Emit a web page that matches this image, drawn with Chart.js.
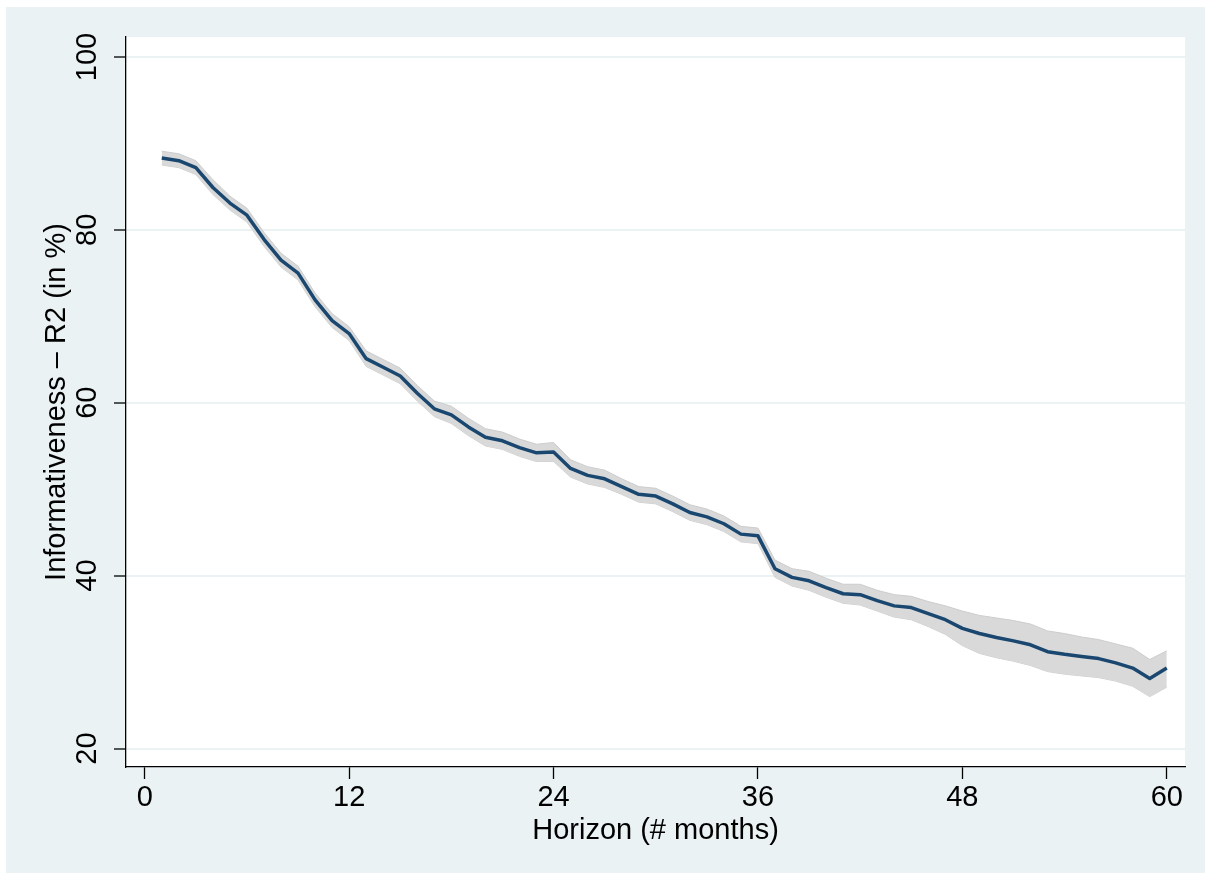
<!DOCTYPE html>
<html>
<head>
<meta charset="utf-8">
<title>Informativeness by horizon</title>
<script src="https://cdn.jsdelivr.net/npm/chart.js@4"></script>
<style>
  html, body { margin: 0; padding: 0; background: #ffffff; }
  canvas { display: block; }
</style>
</head>
<body>
<canvas id="r2Chart" width="1211" height="880" style="width:1211px;height:880px"></canvas>
<script>
// Horizon in months
const months = [1, 2, 3, 4, 5, 6, 7, 8, 9, 10, 11, 12, 13, 14, 15, 16, 17, 18, 19, 20,
    21, 22, 23, 24, 25, 26, 27, 28, 29, 30, 31, 32, 33, 34, 35, 36, 37, 38, 39, 40,
    41, 42, 43, 44, 45, 46, 47, 48, 49, 50, 51, 52, 53, 54, 55, 56, 57, 58, 59, 60];

// Point estimate of R2 (in %)
const r2 = [88.3, 88.0, 87.2, 84.9, 83.1, 81.7, 78.9, 76.5, 75.0, 71.9,
    69.5, 68.0, 65.1, 64.1, 63.1, 61.1, 59.3, 58.6, 57.2, 56.0,
    55.6, 54.8, 54.2, 54.3, 52.4, 51.6, 51.2, 50.3, 49.4, 49.2,
    48.3, 47.3, 46.8, 46.0, 44.8, 44.6, 40.8, 39.8, 39.4, 38.6,
    37.9, 37.8, 37.1, 36.5, 36.3, 35.6, 34.9, 33.9, 33.3, 32.85,
    32.45, 32.0, 31.2, 30.9, 30.65, 30.4, 29.9, 29.3, 28.1, 29.3];

// Confidence band
const upper = [89.1, 88.8, 88.0, 85.8, 83.9, 82.5, 79.7, 77.3, 75.8, 72.7,
    70.3, 68.8, 66.0, 65.0, 64.0, 62.0, 60.2, 59.6, 58.2, 57.0,
    56.6, 55.8, 55.2, 55.4, 53.4, 52.6, 52.2, 51.2, 50.3, 50.1,
    49.2, 48.2, 47.7, 46.9, 45.7, 45.5, 41.8, 40.8, 40.5, 39.7,
    39.0, 39.0, 38.3, 37.8, 37.6, 37.0, 36.5, 35.9, 35.4, 35.1,
    34.8, 34.4, 33.6, 33.3, 32.9, 32.6, 32.1, 31.6, 30.3, 31.3];

const lower = [87.5, 87.2, 86.4, 84.1, 82.3, 80.9, 78.1, 75.7, 74.2, 71.1,
    68.7, 67.2, 64.2, 63.2, 62.2, 60.2, 58.4, 57.6, 56.2, 55.0,
    54.6, 53.8, 53.2, 53.2, 51.4, 50.6, 50.2, 49.4, 48.5, 48.3,
    47.4, 46.4, 45.9, 45.1, 43.9, 43.7, 39.8, 38.8, 38.3, 37.5,
    36.8, 36.6, 35.9, 35.2, 34.9, 34.1, 33.2, 31.9, 31.0, 30.5,
    30.1, 29.6, 28.9, 28.6, 28.4, 28.2, 27.8, 27.2, 26.0, 27.1];

const xTickValues = [0, 12, 24, 36, 48, 60];
const yTickValues = [20, 40, 60, 80, 100];

const toPoints = (ys) => months.map((m, i) => ({ x: m, y: ys[i] }));

const FONT = "'Liberation Sans', Arial, sans-serif";
const axisFont = { family: FONT, size: 29 };

// Stata-like background: light bluish outer region, white plot region
const backgroundPlugin = {
    id: 'stataBackground',
    beforeDraw(chart) {
        const { ctx, chartArea } = chart;
        ctx.save();
        ctx.fillStyle = '#ffffff';
        ctx.fillRect(0, 0, chart.width, chart.height);
        ctx.fillStyle = '#eaf2f3';
        ctx.fillRect(6, 7, 1199, 866);
        ctx.fillStyle = '#ffffff';
        ctx.fillRect(chartArea.left, chartArea.top,
            chartArea.right - chartArea.left, chartArea.bottom - chartArea.top);
        ctx.restore();
    }
};

new Chart(document.getElementById('r2Chart'), {
    type: 'line',
    data: {
        datasets: [
            {
                label: 'upper',
                data: toPoints(upper),
                borderColor: '#cdcdcd',
                borderWidth: 1,
                backgroundColor: '#d9d9d9',
                fill: '+1',
                pointRadius: 0,
                order: 2
            },
            {
                label: 'lower',
                data: toPoints(lower),
                borderColor: '#cdcdcd',
                borderWidth: 1,
                fill: false,
                pointRadius: 0,
                order: 3
            },
            {
                label: 'R2',
                data: toPoints(r2),
                borderColor: '#1a476f',
                borderWidth: 3.5,
                borderJoinStyle: 'round',
                fill: false,
                pointRadius: 0,
                order: 1
            }
        ]
    },
    options: {
        responsive: false,
        animation: false,
        devicePixelRatio: 1,
        layout: {
            padding: { top: 37, right: 26, left: 0, bottom: 0 }
        },
        plugins: {
            legend: { display: false },
            tooltip: { enabled: false }
        },
        elements: {
            line: { tension: 0 }
        },
        scales: {
            x: {
                type: 'linear',
                position: 'bottom',
                min: -1.1,
                max: 61.07,
                afterBuildTicks: (axis) => {
                    axis.ticks = xTickValues.map(v => ({ value: v }));
                },
                afterFit: (scale) => { scale.height = 113; },
                grid: {
                    drawOnChartArea: false,
                    drawTicks: true,
                    tickLength: 12,
                    tickColor: '#000000',
                    tickWidth: 1.3
                },
                border: { display: true, color: '#000000', width: 1.3 },
                ticks: {
                    font: axisFont,
                    color: '#000000',
                    padding: 2,
                    maxRotation: 0,
                    autoSkip: false
                },
                title: {
                    display: true,
                    text: 'Horizon (# months)',
                    font: axisFont,
                    color: '#000000',
                    padding: { top: 0, bottom: 32 }
                }
            },
            y: {
                type: 'linear',
                position: 'left',
                min: 17.86,
                max: 102.31,
                afterBuildTicks: (axis) => {
                    axis.ticks = yTickValues.map(v => ({ value: v }));
                },
                afterFit: (scale) => { scale.width = 126; },
                grid: {
                    color: '#eaf2f3',
                    lineWidth: 2,
                    drawTicks: true,
                    tickLength: 12,
                    tickColor: '#000000',
                    tickWidth: 1.3
                },
                border: { display: true, color: '#000000', width: 1.3 },
                ticks: {
                    font: axisFont,
                    color: '#000000',
                    minRotation: 90,
                    maxRotation: 90,
                    crossAlign: 'center',
                    padding: 2
                },
                title: {
                    display: true,
                    text: 'Informativeness \u2013 R2 (in %)',
                    font: axisFont,
                    color: '#000000',
                    padding: { top: 40, bottom: 0 }
                }
            }
        }
    },
    plugins: [backgroundPlugin]
});
</script>
</body>
</html>
